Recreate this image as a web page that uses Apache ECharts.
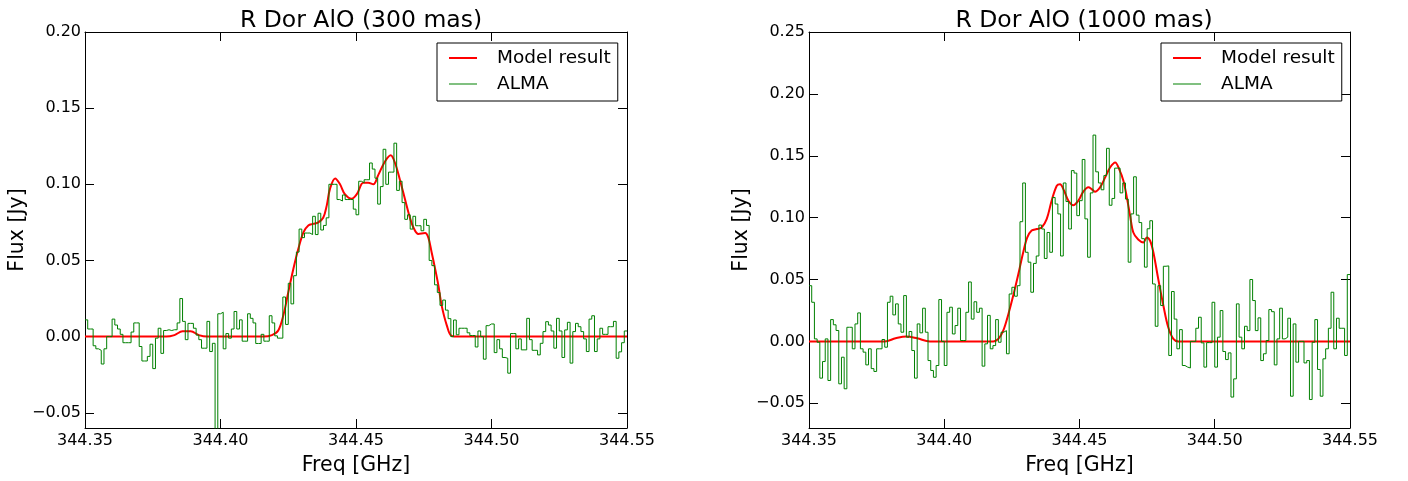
<!DOCTYPE html>
<html>
<head>
<meta charset="utf-8">
<script src="https://cdn.jsdelivr.net/npm/echarts@6/dist/echarts.min.js"></script>
<style>
  html, body { margin: 0; padding: 0; background: #fff; }
  #chart { width: 1408px; height: 481px; }
</style>
</head>
<body>
<div id="chart"></div>
<script>
// Spectral channel grid (GHz): first channel edge and channel width
const chanStart = 344.35;
const chanWidth = 0.001;

// ALMA spectrum, 300 mas aperture (Jy per channel)
const almaFlux300 = [
  0.011, 0.005, 0.005, -0.006, -0.008, -0.009, -0.018, -0.008, 0.000, 0.000,
  0.0115, 0.0076, 0.005, 0.0015, -0.004, -0.004, -0.004, 0.003, 0.009, 0.009,
  -0.0065, -0.016, -0.016, -0.013, -0.005, -0.021, -0.001, 0.0055, -0.011, 0.004,
  0.0045, 0.004, 0.0045, 0.0045, 0.009, 0.025, 0.010, -0.002, 0.0087, 0.0087,
  0.0055, 0.001, -0.002, -0.0076, -0.0076, 0.010, -0.0098, -0.0044, -0.065, 0.015,
  0.016, -0.008, 0.002, -0.001, 0.005, 0.0165, 0.005, 0.011, -0.003, -0.003,
  0.015, 0.012, 0.009, -0.0045, -0.0045, 0.0015, -0.003, -0.003, 0.0137, 0.009,
  0.0005, -0.001, -0.001, 0.026, 0.008, 0.035, 0.0215, 0.040, 0.0555, 0.0706,
  0.065, 0.068, 0.068, 0.067, 0.079, 0.067, 0.081, 0.070, 0.073, 0.078,
  0.100, 0.100, 0.100, 0.090, 0.089, 0.093, 0.090, 0.090, 0.090, 0.0837,
  0.080, 0.102, 0.101, 0.103, 0.103, 0.114, 0.110, 0.104, 0.087, 0.0985,
  0.123, 0.100, 0.108, 0.108, 0.127, 0.096, 0.102, 0.088, 0.077, 0.080,
  0.0706, 0.079, 0.0728, 0.0728, 0.0695, 0.077, 0.073, 0.050, 0.0466, 0.034,
  0.029, 0.0205, 0.024, 0.0174, 0.0118, 0.000, 0.0109, 0.0012, 0.0055, 0.0055,
  0.0055, 0.0025, 0.0007, 0.0007, -0.0068, 0.0037, 0.000, -0.0148, 0.0072, 0.0083,
  0.0083, -0.0105, -0.002, -0.008, -0.0137, -0.0142, -0.024, 0.002, 0.002, -0.008,
  -0.0015, -0.0087, -0.0087, 0.012, -0.002, -0.009, -0.009, -0.012, -0.0044, 0.0033,
  0.0098, 0.0076, 0.0037, -0.0076, 0.012, 0.0037, -0.0137, 0.0044, 0.0094, -0.0174,
  0.0033, 0.0087, 0.0065, 0.0033, -0.0015, -0.0098, 0.0115, 0.0137, -0.0098, -0.0015,
  0.0055, 0.0015, 0.0015, 0.0065, 0.0065, 0.010, -0.0142, -0.010, -0.004, 0.0037
];

// ALMA spectrum, 1000 mas aperture (Jy per channel)
const almaFlux1000 = [
  0.045, 0.0316, 0.002, -0.0007, -0.0297, -0.0163, 0.002, -0.0316, 0.0176, 0.0134,
  0.0088, -0.0343, -0.0128, -0.0383, 0.0114, 0.0114, -0.006, 0.0141, 0.023, -0.006,
  -0.0087, -0.019, -0.006, -0.022, -0.0243, -0.006, -0.006, 0.0015, -0.0047, 0.0316,
  0.0365, 0.0214, 0.0303, 0.0141, 0.0074, 0.037, 0.0034, 0.008, -0.0074, -0.0297,
  0.0141, 0.0069, 0.0268, 0.0074, -0.0155, -0.0235, -0.029, -0.0195, 0.0338, 0.000,
  -0.0195, 0.0235, 0.0276, 0.006, 0.0128, 0.0268, 0.0007, 0.0007, 0.0235, 0.048,
  0.018, 0.032, 0.0235, 0.0268, -0.020, -0.002, 0.021, -0.006, -0.0034, 0.0176,
  -0.0007, 0.0074, 0.0087, -0.010, 0.0383, 0.0437, 0.0365, 0.045, 0.0967, 0.128,
  0.072, 0.064, 0.0397, 0.063, 0.069, 0.094, 0.0908, 0.067, 0.088, 0.072,
  0.1163, 0.111, 0.103, 0.069, 0.128, 0.113, 0.0908, 0.138, 0.136, 0.1016,
  0.1137, 0.147, 0.099, 0.068, 0.120, 0.1667, 0.137, 0.128, 0.1225, 0.134,
  0.156, 0.110, 0.1155, 0.140, 0.140, 0.120, 0.128, 0.115, 0.064, 0.103,
  0.133, 0.102, 0.096, 0.083, 0.060, 0.091, 0.0975, 0.0464, 0.0122, 0.045,
  0.029, 0.0607, 0.061, -0.0114, 0.0403, 0.018, -0.006, 0.0095, -0.0195, -0.0208,
  -0.0215, 0.000, 0.000, 0.0106, 0.0195, -0.0012, -0.0208, -0.001, -0.001, 0.0316,
  -0.0208, 0.0034, 0.0249, -0.0082, -0.0147, -0.0093, -0.045, -0.0303, 0.0303, 0.0034,
  -0.006, 0.0122, 0.0087, 0.050, 0.033, 0.0087, 0.019, -0.0155, -0.010, 0.0007,
  0.0257, 0.024, -0.019, 0.002, 0.0268, 0.002, 0.0034, 0.0187, -0.0443, 0.0141,
  -0.0168, 0.000, 0.000, -0.0174, -0.0155, -0.047, -0.0007, 0.0176, -0.0227, -0.0443,
  -0.0141, -0.006, 0.0106, 0.0397, -0.006, 0.0187, 0.0106, 0.0106, -0.0114, 0.054
];

// Model line profile, 300 mas (frequency in GHz, flux in Jy)
const modelFreq300 = [
  344.350, 344.380, 344.383, 344.386, 344.389, 344.392, 344.395, 344.416, 344.419, 344.4213,
  344.4232, 344.4250, 344.4269, 344.4287, 344.4306, 344.4324, 344.4342, 344.4361, 344.4379, 344.4392,
  344.4404, 344.4423, 344.4441, 344.4459, 344.4484, 344.4503, 344.4527, 344.4545, 344.4564, 344.4582,
  344.4607, 344.4628, 344.4644, 344.4662, 344.4681, 344.4699, 344.4711, 344.4730, 344.4755, 344.4767,
  344.4779, 344.4792, 344.4804, 344.4816, 344.4835, 344.4853, 344.488, 344.550
];
const modelFlux300 = [
  0, 0, 0.001, 0.0035, 0.0035, 0.001, 0, 0, 0.001, 0.004,
  0.014, 0.029, 0.0445, 0.0575, 0.0685, 0.073, 0.074, 0.075, 0.078, 0.086,
  0.097, 0.1038, 0.100, 0.0935, 0.0905, 0.0935, 0.101, 0.101, 0.100, 0.106,
  0.115, 0.119, 0.114, 0.103, 0.090, 0.078, 0.072, 0.0674, 0.068, 0.065,
  0.0554, 0.0445, 0.0336, 0.0205, 0.0074, 0.0004, 0, 0
];

// Model line profile, 1000 mas
const modelFreq1000 = [
  344.350, 344.378, 344.382, 344.386, 344.390, 344.3947, 344.4181, 344.4200, 344.4218, 344.4237,
  344.4255, 344.4274, 344.4292, 344.4307, 344.4323, 344.4342, 344.4360, 344.4379, 344.4397, 344.4416,
  344.4428, 344.4443, 344.4459, 344.4477, 344.4496, 344.4514, 344.4533, 344.4545, 344.4557, 344.4576,
  344.4595, 344.4613, 344.4632, 344.4647, 344.4662, 344.4675, 344.4687, 344.4699, 344.4717, 344.4736,
  344.4749, 344.4761, 344.4773, 344.4791, 344.4810, 344.4828, 344.4847, 344.4865, 344.550
];
const modelFlux1000 = [
  0, 0, 0.0025, 0.004, 0.0025, 0, 0, 0.002, 0.0087, 0.022,
  0.037, 0.0545, 0.072, 0.084, 0.0895, 0.0908, 0.092, 0.099, 0.1137, 0.1258,
  0.127, 0.1217, 0.1137, 0.110, 0.1137, 0.121, 0.1245, 0.123, 0.121, 0.1245,
  0.1325, 0.1405, 0.1446, 0.139, 0.130, 0.1164, 0.1016, 0.088, 0.0823, 0.080,
  0.084, 0.0813, 0.072, 0.0505, 0.029, 0.0114, 0.002, 0, 0
];

// Axis tick positions
const freqTicks = [344.35, 344.40, 344.45, 344.50, 344.55];
const fluxTicks300 = [-0.05, 0.00, 0.05, 0.10, 0.15, 0.20];
const fluxTicks1000 = [-0.05, 0.00, 0.05, 0.10, 0.15, 0.20, 0.25];

const panelTitles = ['R Dor AlO (300 mas)', 'R Dor AlO (1000 mas)'];
const seriesNames = ['Model result', 'ALMA'];

const FONT = 'DejaVu Sans';

// Step outline: each channel drawn flat from its lower edge to its upper edge
function stepData(values) {
  const out = values.map((v, i) => [chanStart + i * chanWidth, v]);
  out.push([chanStart + values.length * chanWidth, values[values.length - 1]]);
  return out;
}
function pairs(xs, ys) { return xs.map((x, i) => [x, ys[i]]); }

const fmtFlux = v => (v < -1e-9 ? '\u2212' : '') + Math.abs(v).toFixed(2);
const fmtFreq = v => v.toFixed(2);

const grids = [
  { left: 85, right: 781, top: 32, bottom: 50 },
  { left: 809, right: 58, top: 32, bottom: 50 }
];

const tickBase = { show: true, inside: true, length: 9, lineStyle: { color: '#000', width: 1 } };
const lineBase = { show: true, onZero: false, lineStyle: { color: '#000', width: 1 } };
const tickFont = { color: '#000', fontFamily: FONT, fontSize: 16 };
const nameFont = { color: '#000', fontFamily: FONT, fontSize: 20.5 };

function xAxes(gi) {
  const common = { type: 'value', gridIndex: gi, min: 344.35, max: 344.55, splitLine: { show: false } };
  return [
    Object.assign({}, common, {
      position: 'bottom',
      axisLine: lineBase,
      axisTick: Object.assign({ customValues: freqTicks }, tickBase),
      axisLabel: Object.assign({ customValues: freqTicks, formatter: fmtFreq, margin: 5 }, tickFont),
      name: 'Freq [GHz]', nameLocation: 'middle', nameGap: 27,
      nameTextStyle: nameFont
    }),
    Object.assign({}, common, {
      position: 'top',
      axisLine: lineBase,
      axisTick: Object.assign({ customValues: freqTicks }, tickBase),
      axisLabel: { show: false }
    })
  ];
}

function yAxes(gi, min, max, ticks) {
  const common = { type: 'value', gridIndex: gi, min: min, max: max, splitLine: { show: false } };
  return [
    Object.assign({}, common, {
      position: 'left',
      axisLine: lineBase,
      axisTick: Object.assign({ customValues: ticks }, tickBase),
      axisLabel: Object.assign({ customValues: ticks, formatter: fmtFlux, margin: 4 }, tickFont),
      name: 'Flux [Jy]', nameLocation: 'middle', nameGap: 53,
      nameTextStyle: nameFont
    }),
    Object.assign({}, common, {
      position: 'right',
      axisLine: lineBase,
      axisTick: Object.assign({ customValues: ticks }, tickBase),
      axisLabel: { show: false }
    })
  ];
}

// Legend keys drawn as short line strokes (2 px for the model, 1 px for the data)
const legendItems = [
  { name: seriesNames[0], icon: 'path://M0,0H28V2H0Z' },
  { name: seriesNames[1], icon: 'path://M0,0H28V1H0Z' }
];

function legendAt(left) {
  return {
    orient: 'vertical', left: left, top: 43,
    data: legendItems,
    itemWidth: 28, itemHeight: 14, itemGap: 6,
    symbolKeepAspect: true,
    padding: [5, 7, 7, 12],
    borderColor: '#000', borderWidth: 1, borderRadius: 0,
    backgroundColor: '#fff',
    selectedMode: false,
    textStyle: { color: '#000', fontFamily: FONT, fontSize: 18.5, lineHeight: 20, padding: [0, 0, 0, 15] }
  };
}

const RED = '#ff0000';
const GREEN = '#008000';

function panelSeries(gi, mFreq, mFlux, alma) {
  return [
    {
      name: seriesNames[0], type: 'line', xAxisIndex: gi * 2, yAxisIndex: gi * 2,
      data: pairs(mFreq, mFlux), smooth: 0.35, symbol: 'none', clip: true,
      lineStyle: { color: RED, width: 2 }, itemStyle: { color: RED }, z: 3, animation: false
    },
    {
      name: seriesNames[1], type: 'line', xAxisIndex: gi * 2, yAxisIndex: gi * 2,
      data: stepData(alma), step: 'end', symbol: 'none', clip: true,
      lineStyle: { color: GREEN, width: 1 }, itemStyle: { color: GREEN }, z: 4, animation: false
    }
  ];
}

const chart = echarts.init(document.getElementById('chart'), null, { renderer: 'canvas' });
chart.setOption({
  backgroundColor: '#fff',
  animation: false,
  title: [
    { text: panelTitles[0], left: 356, top: 4, textAlign: 'center',
      textStyle: { color: '#000', fontFamily: FONT, fontSize: 23.5, fontWeight: 'normal' } },
    { text: panelTitles[1], left: 1079, top: 4, textAlign: 'center',
      textStyle: { color: '#000', fontFamily: FONT, fontSize: 23.5, fontWeight: 'normal' } }
  ],
  legend: [legendAt(437), legendAt(1161)],
  grid: grids,
  xAxis: xAxes(0).concat(xAxes(1)),
  yAxis: yAxes(0, -0.06, 0.20, fluxTicks300).concat(yAxes(1, -0.07, 0.25, fluxTicks1000)),
  series: panelSeries(0, modelFreq300, modelFlux300, almaFlux300)
    .concat(panelSeries(1, modelFreq1000, modelFlux1000, almaFlux1000))
});
</script>
</body>
</html>
